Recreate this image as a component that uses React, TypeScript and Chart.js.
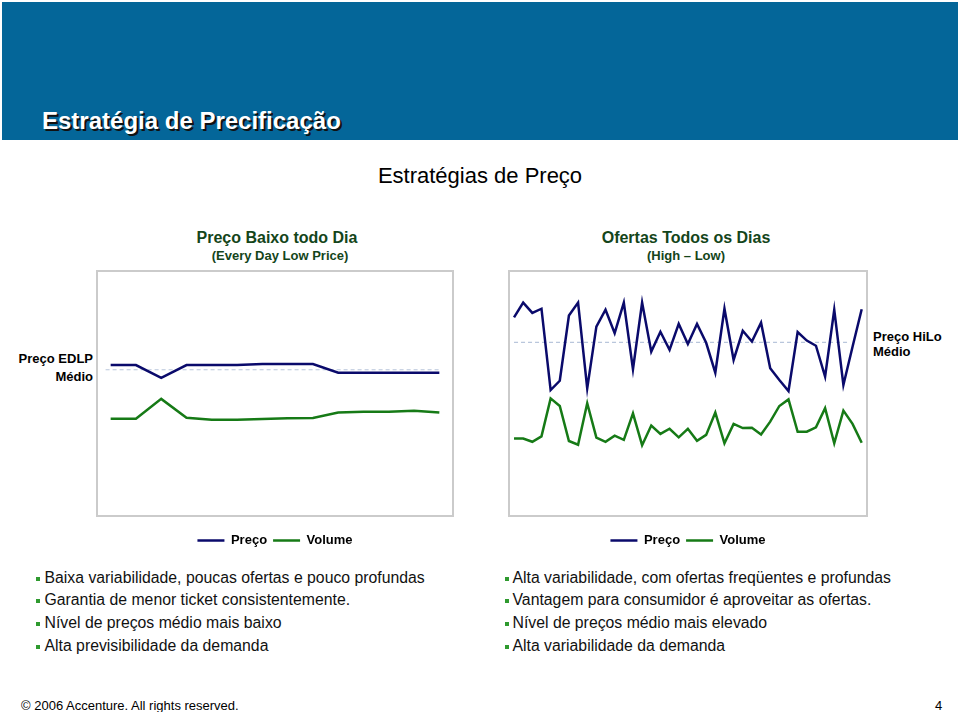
import React, { useEffect, useRef } from "react";
import { Chart, registerables } from "chart.js";

Chart.register(...registerables);

const FONT = '"Liberation Sans", Arial, Helvetica, sans-serif';

// ---- Data: Preço Baixo todo Dia (EDLP) ----
const edlpDays = [1, 2, 3, 4, 5, 6, 7, 8, 9, 10, 11, 12, 13, 14];
const edlpPrice = [61.6, 61.6, 56.4, 61.6, 61.6, 61.6, 62.0, 62.0, 62.0, 58.5, 58.5, 58.5, 58.5, 58.5];
const edlpVolume = [39.7, 39.7, 47.8, 40.1, 39.3, 39.3, 39.6, 39.9, 40.0, 42.2, 42.6, 42.6, 43.0, 42.2];
const edlpAverage = 59.7;
const edlpAverageSpan = [0.8, 14];

// ---- Data: Ofertas Todos os Dias (High – Low) ----
const hiloDays = [
  1, 2, 3, 4, 5, 6, 7, 8, 9, 10, 11, 12, 13, 14, 15, 16, 17, 18, 19, 20,
  21, 22, 23, 24, 25, 26, 27, 28, 29, 30, 31, 32, 33, 34, 35, 36, 37, 38, 39,
];
const hiloPrice = [
  81.1, 87.1, 82.9, 84.6, 51.4, 55.2, 81.8, 87.1, 52.1, 77.3,
  84.2, 74.6, 87.1, 59.9, 87.1, 67.1, 75.2, 67.8, 78.4, 70.2,
  78.4, 70.7, 58.5, 84.6, 63.7, 75.6, 71.2, 78.9, 60.3, 55.5,
  51.0, 75.1, 71.6, 69.5, 56.9, 84.2, 53.5, 69.1, 84.4,
];
const hiloVolume = [
  31.6, 31.6, 30.3, 32.5, 48.0, 44.9, 30.6, 29.1, 46.0, 32.0,
  30.3, 32.8, 31.1, 41.9, 28.9, 36.9, 33.5, 35.6, 32.1, 35.6,
  30.7, 33.1, 42.2, 29.7, 37.6, 35.9, 36.0, 33.3, 38.5, 44.9,
  47.6, 34.4, 34.4, 36.2, 44.0, 29.7, 43.0, 37.6, 29.9,
];
const hiloAverage = 70.9;
const hiloAverageSpan = [1, 37.5];

const seriesNames = ["Preço", "Volume"];

const leftBullets = [
  "Baixa variabilidade, poucas ofertas e pouco profundas",
  "Garantia de menor ticket consistentemente.",
  "Nível de preços médio mais baixo",
  "Alta previsibilidade da demanda",
];
const rightBullets = [
  "Alta variabilidade, com ofertas freqüentes e profundas",
  "Vantagem para consumidor é aproveitar as ofertas.",
  "Nível de preços médio mais elevado",
  "Alta variabilidade da demanda",
];

const PRICE_COLOR = "#0a0a6b";
const VOLUME_COLOR = "#167a16";
const AVG_COLOR = "#b9c6dc";

const framePlugin = {
  id: "frame",
  beforeDatasetsDraw(chart: any) {
    const { ctx, chartArea: a } = chart;
    ctx.save();
    ctx.strokeStyle = "#cbcbcb";
    ctx.lineWidth = 2;
    ctx.strokeRect(a.left, a.top, a.right - a.left, a.bottom - a.top);
    ctx.restore();
  },
};

function makeConfig(
  days: number[],
  price: number[],
  volume: number[],
  avg: number,
  avgSpan: number[],
  xMin: number,
  xMax: number
): any {
  return {
    type: "line",
    data: {
      datasets: [
        {
          label: seriesNames[0],
          data: days.map((d, i) => ({ x: d, y: price[i] })),
          borderColor: PRICE_COLOR,
          backgroundColor: PRICE_COLOR,
          borderWidth: 2.5,
          pointRadius: 0,
          tension: 0,
        },
        {
          label: seriesNames[1],
          data: days.map((d, i) => ({ x: d, y: volume[i] })),
          borderColor: VOLUME_COLOR,
          backgroundColor: VOLUME_COLOR,
          borderWidth: 2.5,
          pointRadius: 0,
          tension: 0,
        },
        {
          label: "Médio",
          data: avgSpan.map((d) => ({ x: d, y: avg })),
          borderColor: AVG_COLOR,
          borderWidth: 1.2,
          borderDash: [4, 3],
          pointRadius: 0,
        },
      ],
    },
    options: {
      animation: false,
      responsive: false,
      events: [],
      layout: { padding: { top: 2, left: 2, right: 2, bottom: 0 } },
      scales: {
        x: {
          type: "linear",
          min: xMin,
          max: xMax,
          display: true,
          ticks: { display: false },
          grid: { display: false },
          border: { display: false },
          afterFit: (s: any) => {
            s.height = 12;
          },
        },
        y: { type: "linear", min: 0, max: 100, display: false },
      },
      plugins: {
        tooltip: { enabled: false },
        title: { display: false },
        legend: {
          display: true,
          position: "bottom",
          labels: {
            usePointStyle: true,
            pointStyle: "line",
            pointStyleWidth: 27,
            padding: 6,
            color: "#000",
            font: { family: FONT, size: 13, weight: "bold" },
            filter: (item: any) => item.datasetIndex < 2,
          },
        },
      },
    },
    plugins: [framePlugin],
  };
}

function LineChart(props: { left: number; top: number; width: number; height: number; make: () => any }) {
  const ref = useRef<HTMLCanvasElement>(null);
  useEffect(() => {
    const chart = new Chart(ref.current as HTMLCanvasElement, props.make());
    return () => chart.destroy();
  }, []);
  return (
    <canvas
      ref={ref}
      width={props.width}
      height={props.height}
      style={{ position: "absolute", left: props.left, top: props.top, width: props.width, height: props.height }}
    />
  );
}

function Txt(props: {
  x: number;
  y: number;
  size: number;
  bold?: boolean;
  color?: string;
  align?: "left" | "center" | "right";
  children: any;
  style?: any;
}) {
  const align = props.align || "center";
  const tx = align === "center" ? "-50%" : align === "right" ? "-100%" : "0";
  return (
    <div
      style={{
        position: "absolute",
        left: props.x,
        top: props.y,
        transform: `translate(${tx}, -50%)`,
        fontFamily: FONT,
        fontSize: props.size,
        fontWeight: props.bold ? "bold" : "normal",
        color: props.color || "#000",
        whiteSpace: "nowrap",
        lineHeight: "normal",
        ...(props.style || {}),
      }}
    >
      {props.children}
    </div>
  );
}

function Bullets(props: { left: number; top: number; items: string[]; gap: number }) {
  return (
    <div
      style={{
        position: "absolute",
        left: props.left,
        top: props.top,
        fontFamily: FONT,
        fontSize: 15.8,
        lineHeight: "22.7px",
        color: "#111",
        whiteSpace: "nowrap",
      }}
    >
      {props.items.map((t, i) => (
        <div key={i}>
          <span
            style={{
              display: "inline-block",
              width: 4,
              height: 4,
              background: "#2f9a2f",
              verticalAlign: "2px",
              marginRight: props.gap,
            }}
          />
          {t}
        </div>
      ))}
    </div>
  );
}

export default function App() {
  return (
    <div
      style={{
        position: "absolute",
        left: 0,
        top: 0,
        width: 960,
        height: 712,
        background: "#fff",
        overflow: "hidden",
      }}
    >
      <div style={{ position: "absolute", left: 2, top: 2, width: 956, height: 138, background: "#046699" }} />
      <Txt x={42} y={120.5} size={24} bold color="#fff" align="left" style={{ textShadow: "2px 2px 0 #111" }}>
        Estratégia de Precificação
      </Txt>

      <Txt x={480} y={176} size={22}>
        Estratégias de Preço
      </Txt>

      <Txt x={277} y={238} size={16} bold color="#14451a">
        Preço Baixo todo Dia
      </Txt>
      <Txt x={280} y={255} size={13} bold color="#14451a">
        (Every Day Low Price)
      </Txt>
      <Txt x={686} y={238} size={16} bold color="#14451a">
        Ofertas Todos os Dias
      </Txt>
      <Txt x={686} y={255} size={13} bold color="#14451a">
        (High – Low)
      </Txt>

      <Txt x={93} y={358} size={13} bold align="right">
        Preço EDLP
      </Txt>
      <Txt x={93} y={376} size={13} bold align="right">
        Médio
      </Txt>
      <Txt x={873} y={336} size={13} bold align="left">
        Preço HiLo
      </Txt>
      <Txt x={873} y={351} size={13} bold align="left">
        Médio
      </Txt>

      <LineChart
        left={95}
        top={269}
        width={360}
        height={288}
        make={() => makeConfig(edlpDays, edlpPrice, edlpVolume, edlpAverage, edlpAverageSpan, 0.46, 14.54)}
      />
      <LineChart
        left={507}
        top={269}
        width={362}
        height={288}
        make={() => makeConfig(hiloDays, hiloPrice, hiloVolume, hiloAverage, hiloAverageSpan, 0.45, 39.58)}
      />

      <Bullets left={36} top={566.5} items={leftBullets} gap={4.5} />
      <Bullets left={505} top={566.5} items={rightBullets} gap={3.5} />

      <Txt x={21} y={705} size={13} align="left">
        © 2006 Accenture. All rights reserved.
      </Txt>
      <Txt x={935} y={705} size={13} align="left">
        4
      </Txt>
    </div>
  );
}
